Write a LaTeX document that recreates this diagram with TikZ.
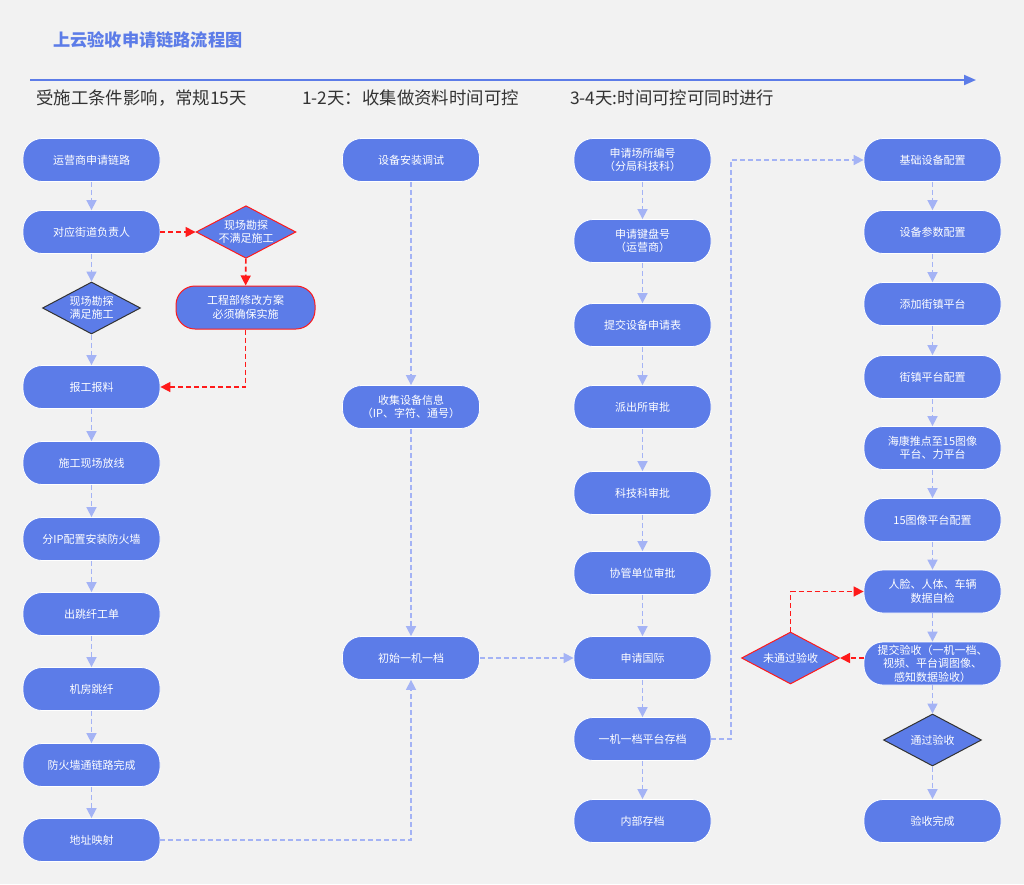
\documentclass[tikz,border=0pt]{standalone}
\usepackage{fontspec}
\setmainfont{Noto Sans CJK SC}
\usetikzlibrary{arrows.meta,shapes.geometric}
\definecolor{nb}{HTML}{5C7CE8}
\definecolor{lightarrow}{HTML}{A4B3F5}
\definecolor{rd}{HTML}{FF1A1A}
\definecolor{bg}{HTML}{F2F2F2}
\definecolor{tx}{HTML}{333333}
\begin{document}
\begin{tikzpicture}[x=1pt,y=-1pt,
 box/.style={rectangle,rounded corners=19pt,minimum width=137pt,minimum height=43pt,fill=nb,draw=white,line width=0.8pt,text=white,font=\fontsize{11}{13.5}\selectfont,align=center,inner sep=2pt},
 redbox/.style={box,draw=rd,line width=1pt,minimum width=139pt},
 dia/.style={diamond,aspect=1.9,minimum width=98pt,minimum height=52pt,inner sep=0pt,fill=nb,draw=tx,line width=1pt,text=white,font=\fontsize{11}{13.5}\selectfont,align=center},
 reddia/.style={dia,draw=rd},
 conn/.style={draw=lightarrow,dash pattern=on 5pt off 3pt,line width=1.6pt,-{Triangle[length=10pt,width=10pt]}},
 rconn/.style={draw=rd,dash pattern=on 5pt off 3pt,line width=1.6pt,-{Triangle[length=10pt,width=10pt]}},
 sub/.style={anchor=west,text=tx,font=\fontsize{17.4}{20}\selectfont,inner sep=0pt}
]
\fill[bg] (0,0) rectangle (1024,884);
\useasboundingbox (0,0) rectangle (1024,884);

\node[anchor=west,inner sep=0pt,text=nb,font=\bfseries\fontsize{17.2}{20}\selectfont] (title) at (53,40) {上云验收申请链路流程图};
\coordinate (tl) at (30,80);
\coordinate (tr) at (976,80);
\draw[nb,line width=2pt,-{Triangle[length=12pt,width=10pt]}] (tl) -- (tr);
\node[sub] (s1) at (36,98) {受施工条件影响，常规15天};
\node[sub] (s2) at (302,98) {1-2天：收集做资料时间可控};
\node[sub] (s3) at (570,98) {3-4天:时间可控可同时进行};

% column 1
\node[box] (a1) at (91.5,160) {运营商申请链路};
\node[box] (a2) at (91.5,232) {对应街道负责人};
\node[dia] (d1) at (91.5,308) {现场勘探\\满足施工};
\node[box] (a3) at (91.5,387) {报工报料};
\node[box] (a4) at (91.5,463) {施工现场放线};
\node[box] (a5) at (91.5,539) {分IP配置安装防火墙};
\node[box] (a6) at (91.5,614) {出跳纤工单};
\node[box] (a7) at (91.5,689) {机房跳纤};
\node[box] (a8) at (91.5,765) {防火墙通链路完成};
\node[box] (a9) at (91.5,840) {地址映射};
\node[reddia] (rd1) at (246,232) {现场勘探\\不满足施工};
\node[redbox] (rb) at (245.5,307.5) {工程部修改方案\\必须确保实施};

% column 2
\node[box] (b1) at (411,160) {设备安装调试};
\node[box] (b2) at (411,407) {收集设备信息\\（IP、字符、通号）};
\node[box] (b3) at (411,658) {初始一机一档};

% column 3
\node[box] (c1) at (642.5,160) {申请场所编号\\（分局科技科）};
\node[box] (c2) at (642.5,241) {申请键盘号\\（运营商）};
\node[box] (c3) at (642.5,325) {提交设备申请表};
\node[box] (c4) at (642.5,407) {派出所审批};
\node[box] (c5) at (642.5,493) {科技科审批};
\node[box] (c6) at (642.5,573) {协管单位审批};
\node[box] (c7) at (642.5,658) {申请国际};
\node[box] (c8) at (642.5,739) {一机一档平台存档};
\node[box] (c9) at (642.5,821) {内部存档};

% column 4
\node[box] (e1) at (932.5,160) {基础设备配置};
\node[box] (e2) at (932.5,232) {设备参数配置};
\node[box] (e3) at (932.5,304) {添加街镇平台};
\node[box] (e4) at (932.5,377) {街镇平台配置};
\node[box] (e5) at (932.5,448) {海康推点至15图像\\平台、力平台};
\node[box] (e6) at (932.5,520) {15图像平台配置};
\node[box] (e7) at (932.5,591.5) {人脸、人体、车辆\\数据自检};
\node[box] (e8) at (932.5,663.5) {提交验收（一机一档、\\视频、平台调图像、\\感知数据验收）};
\node[dia] (e9) at (932.5,740) {通过验收};
\node[box] (e10) at (932.5,821) {验收完成};
\node[reddia] (rd2) at (790.5,658) {未通过验收};

% connectors column 1
\draw[conn] (a1) -- (a2);
\draw[conn] (a2) -- (d1);
\draw[conn] (d1) -- (a3);
\draw[conn] (a3) -- (a4);
\draw[conn] (a4) -- (a5);
\draw[conn] (a5) -- (a6);
\draw[conn] (a6) -- (a7);
\draw[conn] (a7) -- (a8);
\draw[conn] (a8) -- (a9);
\draw[rconn] (a2) -- (rd1);
\draw[rconn] (rd1) -- (rb);
\draw[rconn] (rb.south) |- (a3.east);

% column 2
\draw[conn] (b1) -- (b2);
\draw[conn] (b2) -- (b3);
\draw[conn] (a9.east) -| (b3.south);
\draw[conn] (b3) -- (c7);

% column 3
\draw[conn] (c1) -- (c2);
\draw[conn] (c2) -- (c3);
\draw[conn] (c3) -- (c4);
\draw[conn] (c4) -- (c5);
\draw[conn] (c5) -- (c6);
\draw[conn] (c6) -- (c7);
\draw[conn] (c7) -- (c8);
\draw[conn] (c8) -- (c9);
\coordinate (k) at (731,739);
\draw[conn] (c8.east) -- (k) |- (e1.west);

% column 4
\draw[conn] (e1) -- (e2);
\draw[conn] (e2) -- (e3);
\draw[conn] (e3) -- (e4);
\draw[conn] (e4) -- (e5);
\draw[conn] (e5) -- (e6);
\draw[conn] (e6) -- (e7);
\draw[conn] (e7) -- (e8);
\draw[conn] (e8) -- (e9);
\draw[conn] (e9) -- (e10);
\draw[rconn] (e8.west |- rd2.east) -- (rd2.east);
\draw[rconn] (rd2.north) |- (e7.west);
\end{tikzpicture}
\end{document}
